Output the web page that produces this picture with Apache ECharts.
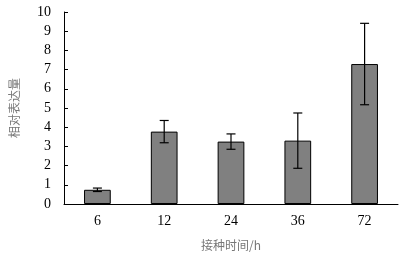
<!DOCTYPE html>
<html><head><meta charset="utf-8">
<script src="https://cdn.jsdelivr.net/npm/echarts@6/dist/echarts.min.js"></script>
<style>html,body{margin:0;padding:0;background:#fff}#c{width:409px;height:256px}</style>
</head><body><div id="c"></div>
<script>
var categories = ['6', '12', '24', '36', '72'];
var values = [0.74, 3.77, 3.25, 3.30, 7.29];
var errors = [0.09, 0.58, 0.40, 1.44, 2.12];
var yTicks = [0, 1, 2, 3, 4, 5, 6, 7, 8, 9, 10];

var chart = echarts.init(document.getElementById('c'));
var errData = values.map(function (v, i) { return [i, v - errors[i], v + errors[i]]; });
chart.setOption({
  animation: false,
  grid: { left: 61, right: 11, top: 12, bottom: 51 },
  xAxis: {
    type: 'category', data: categories,
    axisLine: { lineStyle: { color: '#000', width: 1 } },
    axisTick: { inside: true, length: 5, lineStyle: { color: '#000' } },
    axisLabel: { color: '#000', fontFamily: 'Liberation Serif', fontSize: 14, margin: 10 },
    name: '接种时间/h', nameLocation: 'middle', nameGap: 35,
    nameTextStyle: { color: '#777', fontFamily: 'Noto Sans CJK SC', fontSize: 12 }
  },
  yAxis: {
    type: 'value', min: 0, max: 10, interval: 1,
    axisLine: { show: true, lineStyle: { color: '#000', width: 1 } },
    axisTick: { show: true, inside: true, length: 4, lineStyle: { color: '#000' } },
    splitLine: { show: false },
    axisLabel: { color: '#000', fontFamily: 'Liberation Serif', fontSize: 14, margin: 13,
      formatter: function (v) { return yTicks.indexOf(v) >= 0 ? String(v) : ''; } },
    name: '相对表达量', nameLocation: 'middle', nameGap: 44, nameRotate: 90,
    nameTextStyle: { color: '#777', fontFamily: 'Noto Sans CJK SC', fontSize: 12 }
  },
  series: [{
    type: 'bar', data: values, barWidth: '40%',
    itemStyle: { color: '#808080', borderColor: '#000', borderWidth: 1 }
  }, {
    type: 'custom', data: errData,
    renderItem: function (params, api) {
      var x = api.value(0);
      var lo = api.coord([x, api.value(1)]);
      var hi = api.coord([x, api.value(2)]);
      var hw = 4.5;
      var st = { stroke: '#000', lineWidth: 1.2 };
      return { type: 'group', children: [
        { type: 'line', shape: { x1: lo[0], y1: lo[1], x2: hi[0], y2: hi[1] }, style: st },
        { type: 'line', shape: { x1: lo[0] - hw, y1: lo[1], x2: lo[0] + hw, y2: lo[1] }, style: st },
        { type: 'line', shape: { x1: hi[0] - hw, y1: hi[1], x2: hi[0] + hw, y2: hi[1] }, style: st }
      ]};
    },
    z: 10
  }]
});
</script></body></html>
